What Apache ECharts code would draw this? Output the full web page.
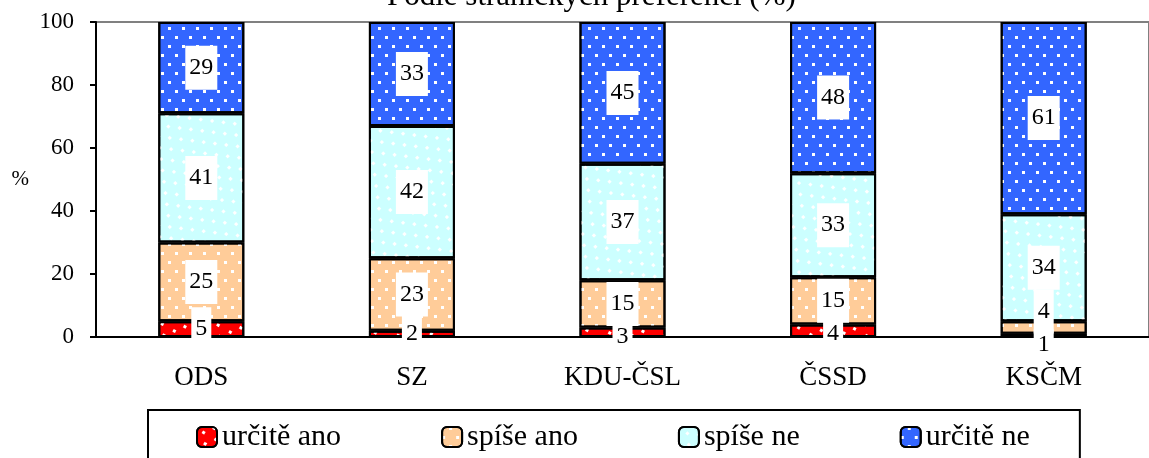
<!DOCTYPE html>
<html>
<head>
<meta charset="utf-8">
<script src="https://cdn.jsdelivr.net/npm/echarts@6/dist/echarts.min.js"></script>
<style>
  html, body { margin: 0; padding: 0; background: #fff; }
  #chart { width: 1149px; height: 458px; }
</style>
</head>
<body>
<div id="chart"></div>
<script>
// data
var parties = ['ODS', 'SZ', 'KDU-ČSL', 'ČSSD', 'KSČM']
var urciteAno = [5, 2, 3, 4, 1]
var spiseAno = [25, 23, 15, 15, 4]
var spiseNe = [41, 42, 37, 33, 34]
var urciteNe = [29, 33, 45, 48, 61]
var yTicks = [0, 20, 40, 60, 80, 100]

var font = 'Liberation Serif'

// Excel moved a couple of the tiny labels away from each other
var labelNudge = {
  'určitě ano': {
    2: { offset: [0, 4] },
    3: { offset: [0, 3] },
    4: { offset: [0, 9], padding: [3, 4] }
  },
  'spíše ano': { 4: { offset: [0, -16] } }
}

function dots () {
  return {
    symbol: 'rect',
    color: '#ffffff',
    symbolSize: 1,
    dashArrayX: [[3, 11], [0, 7, 3, 4]],
    dashArrayY: [3, 6]
  }
}

function makeSeries (name, values, color) {
  var nudge = labelNudge[name] || {}
  return {
    name: name,
    type: 'bar',
    stack: 'total',
    barWidth: 86,
    itemStyle: {
      color: color,
      borderColor: '#000',
      borderWidth: 2,
      decal: dots()
    },
    label: {
      show: true,
      position: 'inside',
      fontFamily: font,
      fontSize: 24,
      lineHeight: 24,
      color: '#000',
      backgroundColor: '#fff',
      padding: [10, 4]
    },
    data: values.map(function (v, i) {
      if (nudge[i]) {
        return { value: v, label: nudge[i] }
      }
      return v
    })
  }
}

var myChart = echarts.init(document.getElementById('chart'))

myChart.setOption({
  animation: false,
  aria: { enabled: true, decal: { show: true } },
  title: {
    text: 'Podle stranických preferencí (%)',
    left: 387,
    top: -19,
    padding: 0,
    textStyle: { fontFamily: font, fontSize: 31, fontWeight: 'normal', color: '#000' }
  },
  grid: {
    left: 96,
    right: -7,
    top: 22,
    bottom: 121,
    show: true,
    borderColor: '#808080',
    borderWidth: 2
  },
  legend: {
    left: 148,
    top: 410,
    padding: [12, 50, 20, 48],
    borderColor: '#000',
    borderWidth: 2,
    itemWidth: 20,
    itemHeight: 20,
    itemGap: 100,
    textStyle: { fontFamily: font, fontSize: 30, color: '#000' },
    data: ['určitě ano', 'spíše ano', 'spíše ne', 'určitě ne']
  },
  xAxis: {
    type: 'category',
    data: parties,
    axisLine: { lineStyle: { color: '#000', width: 2 } },
    axisTick: { length: 6, lineStyle: { color: '#000', width: 2 } },
    axisLabel: { margin: 27, fontFamily: font, fontSize: 27, color: '#000' }
  },
  yAxis: {
    type: 'value',
    min: yTicks[0],
    max: yTicks[yTicks.length - 1],
    interval: yTicks[1] - yTicks[0],
    name: '%',
    nameLocation: 'middle',
    nameRotate: 0,
    nameGap: 67,
    nameTextStyle: { fontFamily: font, fontSize: 21, color: '#000', padding: [6, 0, 0, 0] },
    axisLine: { show: true, lineStyle: { color: '#000', width: 2 } },
    axisTick: { show: true, length: 6, lineStyle: { color: '#000', width: 2 } },
    axisLabel: { margin: 22, fontFamily: font, fontSize: 23, color: '#000' },
    splitLine: { show: false }
  },
  series: [
    makeSeries('určitě ano', urciteAno, '#ff0000'),
    makeSeries('spíše ano', spiseAno, '#ffcc99'),
    makeSeries('spíše ne', spiseNe, '#ccffff'),
    makeSeries('určitě ne', urciteNe, '#3366ff')
  ]
})
</script>
</body>
</html>
